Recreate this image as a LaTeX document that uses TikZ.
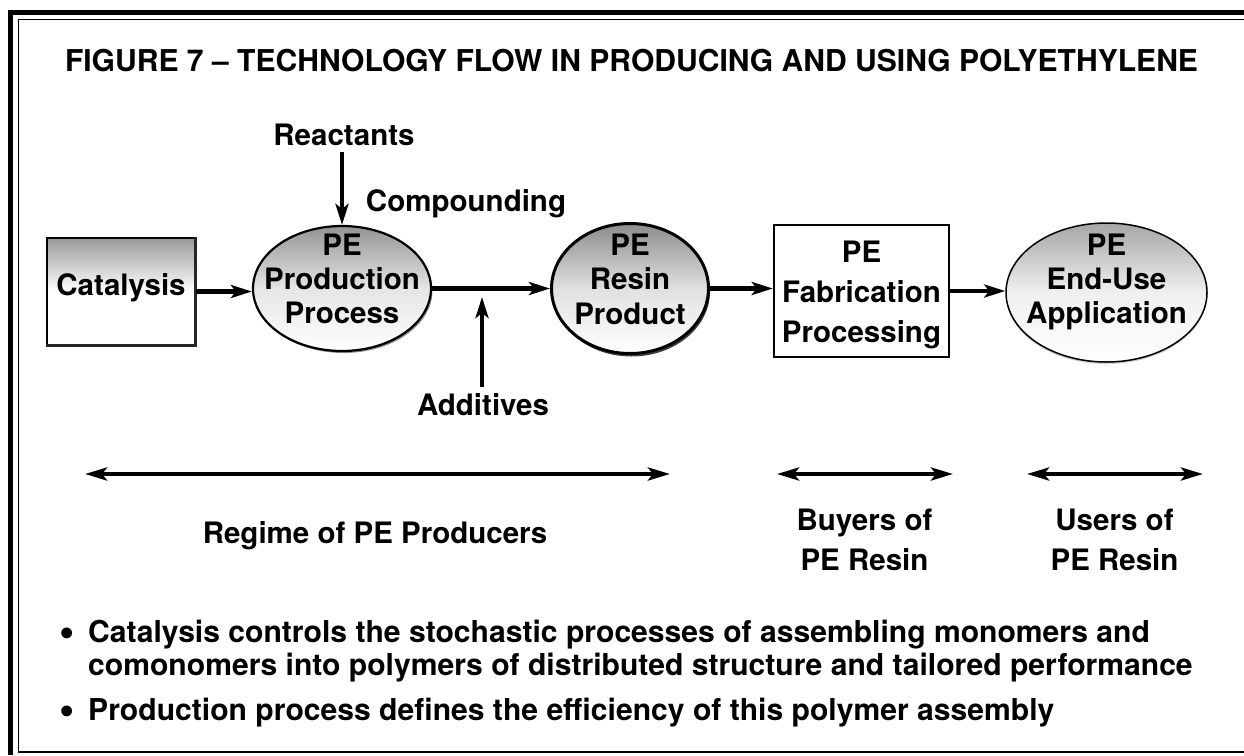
\documentclass[tikz,border=0pt]{standalone}
\usepackage{fontspec}
\setmainfont{TeX Gyre Heros}
\usetikzlibrary{arrows.meta,shapes.geometric,shadows}
\begin{document}
\begin{tikzpicture}[x=1pt,y=1pt]
\tikzset{
  lbl/.style={font=\fontsize{29.5}{34}\selectfont\bfseries, inner sep=0pt, align=center},
  bul/.style={font=\fontsize{30.1}{34}\selectfont\bfseries, inner sep=0pt},
  flow/.style={line width=4.3pt, -{Stealth[length=21pt,width=13pt,inset=5pt]}},
  spanarrow/.style={line width=4pt, {Stealth[length=22pt,width=13pt,inset=5pt]}-{Stealth[length=22pt,width=13pt,inset=5pt]}},
  shapebox/.style={inner sep=0pt, draw=black},
}
\useasboundingbox (0,0) rectangle (1244,-755);
\fill[white] (0,0) rectangle (1244,-755);
% frame
\draw[line width=5pt] (10.5,-755) -- (10.5,-12.5) -- (1244,-12.5);
\draw[line width=1.5pt] (1244,-19.5) -- (18.5,-19.5) -- (18.5,-752) -- (1244,-752);

% title
\node[lbl, anchor=base] (title) at (631.5,-71) {\resizebox{1133pt}{!}{FIGURE 7 -- TECHNOLOGY FLOW IN PRODUCING AND USING POLYETHYLENE}};

% shapes
\node[shapebox, rectangle, minimum width=148pt, minimum height=107pt, line width=1.5pt,
      top color=black!40, bottom color=white, middle color=white] (cat) at (121,-291.5) {};
\draw[line width=3pt, black!85] (cat.north east) -- (cat.south east) -- (cat.south west);
\node[lbl, anchor=base] (catt) at (121,-295) {Catalysis};

\node[shapebox, ellipse, minimum width=178pt, minimum height=125pt, line width=2.2pt,
      top color=black!42, bottom color=white, middle color=black!10,
      drop shadow={shadow xshift=1.5pt, shadow yshift=-2pt, fill=black, opacity=0.45}] (pp) at (342,-288.5) {};
\node[lbl] (ppt) at (342,-278.4) {PE\\Production\\Process};

\node[shapebox, ellipse, minimum width=157pt, minimum height=130pt, line width=3pt,
      top color=black!45, bottom color=white, middle color=black!12,
      drop shadow={shadow xshift=1.5pt, shadow yshift=-3pt, fill=black, opacity=0.75}] (rs) at (630,-288.5) {};
\node[lbl, font=\fontsize{29.5}{34.5}\selectfont\bfseries] (rst) at (630,-278.9) {PE\\Resin\\Product};

\node[shapebox, rectangle, minimum width=175pt, minimum height=132pt, line width=2.5pt, fill=white] (fab) at (861.5,-291) {};
\node[lbl, font=\fontsize{29.5}{40}\selectfont\bfseries] (fabt) at (861.5,-294.6) {PE\\Fabrication\\Processing};

\node[shapebox, ellipse, minimum width=201pt, minimum height=139pt, line width=1.5pt,
      top color=black!35, bottom color=white, middle color=white!94!black,
      drop shadow={shadow xshift=0pt, shadow yshift=-2pt, fill=black, opacity=0.2}] (eu) at (1106.5,-292.5) {};
\node[lbl] (eut) at (1106.5,-281.5) {PE\\End-Use\\Application};

% side labels
\node[lbl, anchor=base] (re) at (344,-145) {Reactants};
\node[lbl, anchor=base] (cmp) at (466,-211) {Compounding};
\node[lbl, anchor=base] (ad) at (483,-415) {Additives};
\coordinate (adtip) at (482,-297);

% flow arrows
\draw[flow] (cat.east) -- (cat.east -| pp.west);
\draw[flow] (pp.east) -- (pp.east -| rs.west);
\draw[flow] (rs.east) -- (rs.east -| fab.west);
\draw[flow] (fab.east) -- (fab.east -| eu.west);
\draw[flow] ([yshift=-7pt]re.south -| pp.north) -- (pp.north);
\draw[flow] ([yshift=6pt]ad.north -| adtip) -- (adtip);

% regimes
\coordinate (r1) at (85,-474);
\coordinate (r2) at (670,-474);
\draw[spanarrow] (r1) -- (r2);
\node[lbl, anchor=base] (rg) at (375,-543) {Regime of PE Producers};

\coordinate (b1) at (777,-474);
\coordinate (b2) at (953,-474);
\draw[spanarrow] (b1) -- (b2);
\node[lbl, font=\fontsize{29.5}{40}\selectfont\bfseries] (by) at (864.5,-539.4) {Buyers of\\PE Resin};

\coordinate (u1) at (1027,-474);
\coordinate (u2) at (1203,-474);
\draw[spanarrow] (u1) -- (u2);
\node[lbl, font=\fontsize{29.5}{40}\selectfont\bfseries] (us) at (1114.5,-539.4) {Users of\\PE Resin};

% bullets
\node[bul, anchor=base] (d1) at (67,-642) {\raisebox{-4pt}{\scalebox{1.45}{\textbullet}}};
\node[bul, anchor=base west] (l1) at (88,-642) {Catalysis controls the stochastic processes of assembling monomers and};
\node[bul, anchor=base west] (l2) at (88,-675) {comonomers into polymers of distributed structure and tailored performance};
\node[bul, anchor=base] (d2) at (67,-720) {\raisebox{-4pt}{\scalebox{1.45}{\textbullet}}};
\node[bul, anchor=base west] (l3) at (88,-720) {Production process defines the efficiency of this polymer assembly};
\end{tikzpicture}
\end{document}
